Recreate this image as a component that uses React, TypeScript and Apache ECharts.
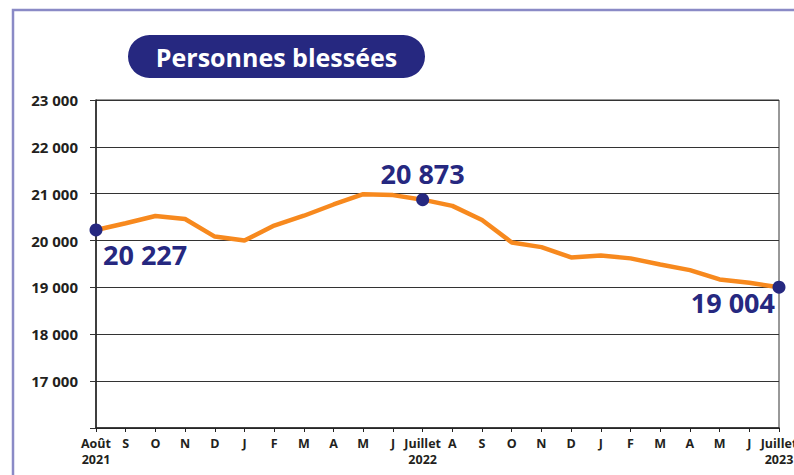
import React, { useEffect, useRef } from "react";
import * as echarts from "echarts";

const months = [
  "Août\n2021", "S", "O", "N", "D", "J", "F", "M", "A", "M", "J", "Juillet\n2022",
  "A", "S", "O", "N", "D", "J", "F", "M", "A", "M", "J", "Juillet\n2023",
];
const injured = [
  20227, 20370, 20525, 20460, 20085, 20000, 20320, 20530, 20770, 20990, 20970, 20873,
  20740, 20440, 19960, 19860, 19640, 19680, 19620, 19490, 19370, 19170, 19100, 19004,
];
const highlighted = [0, 11, 23];
const title = "Personnes blessées";

const fmt = (v: number) => {
  const s = String(Math.round(v));
  return s.length > 3 ? s.slice(0, s.length - 3) + " " + s.slice(-3) : s;
};

export default function App() {
  const ref = useRef<HTMLDivElement>(null);
  useEffect(() => {
    if (!ref.current) return;
    const chart = echarts.init(ref.current, undefined, { renderer: "svg" });
    const navy = "#262880";
    const labelCfg: Record<number, any> = {
      0: { position: "bottom", align: "left", offset: [7, 0] },
      11: { position: "top", align: "center", offset: [0, -1] },
      23: { position: "bottom", align: "right", offset: [-4, -10] },
    };
    chart.setOption({
      animation: false,
      grid: {
        left: 96, right: 15, top: 100, bottom: 47,
        show: true, borderColor: "#333", borderWidth: 1,
        outerBoundsMode: "none",
        containLabel: false,
      },
      graphic: [
        {
          type: "rect",
          shape: { x: 13, y: 10, width: 900, height: 600 },
          style: { fill: "none", stroke: "#8a8ac6", lineWidth: 2.5 },
          silent: true,
        },
        {
          type: "rect",
          shape: { x: 128, y: 35, width: 297, height: 43, r: 21.5 },
          style: { fill: navy },
        },
        {
          type: "text",
          x: 276.5,
          y: 57,
          style: {
            text: title,
            fill: "#fff",
            font: "bold 25px 'Open Sans'",
            align: "center",
            verticalAlign: "middle",
          },
        },
      ],
      xAxis: {
        type: "category",
        data: months,
        boundaryGap: false,
        axisLine: { lineStyle: { color: "#222", width: 1.5 } },
        axisTick: { show: true, length: 4, alignWithLabel: true, interval: 0, lineStyle: { color: "#222" } },
        axisLabel: {
          interval: 0,
          margin: 7,
          fontFamily: "Open Sans",
          fontWeight: "bold",
          fontSize: 12.5,
          lineHeight: 16,
          color: "#231f20",
          showMaxLabel: true,
          hideOverlap: false,
        },
        splitLine: { show: false },
      },
      yAxis: {
        type: "value",
        min: 16000,
        max: 23000,
        interval: 1000,
        axisLine: { show: true, lineStyle: { color: "#222", width: 1.5 } },
        axisTick: { show: true, length: 6, lineStyle: { color: "#333" } },
        axisLabel: {
          margin: 18,
          fontFamily: "Open Sans",
          fontWeight: "bold",
          fontSize: 15,
          color: "#231f20",
          formatter: (v: number) => (v === 16000 ? "" : fmt(v)),
        },
        splitLine: { show: true, lineStyle: { color: "#333", width: 1 } },
      },
      series: [
        {
          type: "line",
          data: injured,
          symbol: "none",
          lineStyle: { color: "#f7891e", width: 4.5 },
          z: 2,
        },
        {
          type: "scatter",
          symbol: "circle",
          symbolSize: 13,
          itemStyle: { color: navy, opacity: 1 },
          z: 3,
          data: highlighted.map((i) => ({
            value: [i, injured[i]],
            label: {
              show: true,
              formatter: fmt(injured[i]),
              color: navy,
              opacity: 1,
              fontFamily: "Open Sans",
              fontWeight: "bold",
              fontSize: 27,
              ...labelCfg[i],
            },
          })),
        },
      ],
    });
    return () => chart.dispose();
  }, []);
  return (
    <div
      ref={ref}
      style={{ position: "absolute", left: 0, top: 0, width: 794, height: 475, background: "#fff" }}
    />
  );
}
